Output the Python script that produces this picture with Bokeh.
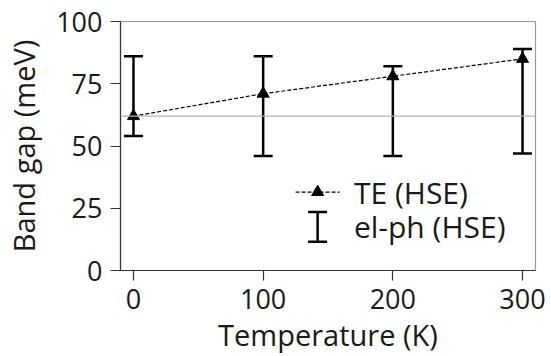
from bokeh.plotting import figure
from bokeh.models import ColumnDataSource, Whisker, TeeHead, Span, FixedTicker, Range1d
from bokeh.core.properties import value
from bokeh.embed import file_html
from bokeh.resources import INLINE

# ---- data ----
temperature = [0, 100, 200, 300]
te_gap = [62, 71, 78, 85]
elph_upper = [86, 86, 82, 89]
elph_lower = [54, 46, 46, 47]
ref_gap = 62
x_ticks = [0, 100, 200, 300]
y_ticks = [0, 25, 50, 75, 100]
te_label = "TE (HSE)"
elph_label = "el-ph (HSE)"
x_title = "Temperature (K)"
y_title = "Band gap (meV)"

FONT = "Open Sans"
FS_TICK = "27px"
FS_TITLE = "29px"
FS_LEG = "30px"

p = figure(width=551, height=356, output_backend="svg", toolbar_location=None,
           x_range=Range1d(-10, 310), y_range=Range1d(0, 100),
           min_border_left=120, min_border_right=16, min_border_top=21, min_border_bottom=85)
p.background_fill_color = "white"
p.border_fill_color = "white"
p.outline_line_color = "#9a9a9a"
p.outline_line_width = 1.2
p.xgrid.visible = False
p.ygrid.visible = False

for ax, ticks, title in ((p.xaxis[0], x_ticks, x_title), (p.yaxis[0], y_ticks, y_title)):
    ax.ticker = FixedTicker(ticks=ticks)
    ax.minor_tick_line_color = None
    ax.major_tick_out = 10
    ax.major_tick_in = 0
    ax.major_tick_line_color = "#333333"
    ax.major_tick_line_width = 1.2
    ax.axis_line_color = "#333333"
    ax.axis_line_width = 1.2
    ax.major_label_text_font = FONT
    ax.major_label_text_font_size = FS_TICK
    ax.major_label_text_color = "#1a1a1a"
    ax.axis_label = title
    ax.axis_label_text_font = FONT
    ax.axis_label_text_font_size = FS_TITLE
    ax.axis_label_text_font_style = "normal"
    ax.axis_label_text_color = "#1a1a1a"
p.xaxis.major_label_standoff = 8
p.yaxis.major_label_standoff = 8
p.xaxis.axis_label_standoff = 3
p.yaxis.axis_label_standoff = 10

# reference horizontal line
p.add_layout(Span(location=ref_gap, dimension="width", line_color="#b5b5b5", line_width=1.2))

src = ColumnDataSource(dict(x=temperature, te=te_gap, up=elph_upper, lo=elph_lower))

# error bars
p.add_layout(Whisker(base="x", upper="up", lower="lo", source=src,
                     line_color="black", line_width=2.5,
                     upper_head=TeeHead(size=19, line_width=2.5, line_color="black"),
                     lower_head=TeeHead(size=19, line_width=2.5, line_color="black")))

# TE line
p.line("x", "te", source=src, line_color="black", line_width=1.2, line_dash="4 2")
p.scatter("x", "te", source=src, marker="triangle", size=12, fill_color="black", line_color="black")

# ---- manual legend ----
lx0, lx1, lxm = 125, 159, 142
ly1, ly2 = 31.5, 17.5
p.segment(x0=[lx0], y0=[ly1], x1=[lx1], y1=[ly1], line_color="black", line_width=1.2, line_dash="4 2")
p.scatter(x=[lxm], y=[ly1], marker="triangle", size=12, fill_color="black", line_color="black")
leg = ColumnDataSource(dict(x=[lxm], b=[ly2], up=[ly2 + 6], lo=[ly2 - 6]))
p.add_layout(Whisker(base="x", upper="up", lower="lo", source=leg, dimension="height",
                     line_color="black", line_width=2.5,
                     upper_head=TeeHead(size=19, line_width=2.5, line_color="black"),
                     lower_head=TeeHead(size=19, line_width=2.5, line_color="black")))
p.text(x=[170, 170], y=[ly1, ly2], text=[te_label, elph_label],
       text_font=value(FONT), text_font_size=value(FS_LEG), text_color="#1a1a1a",
       text_baseline="middle", text_align="left")

open("out.html", "w").write(file_html(p, INLINE))
